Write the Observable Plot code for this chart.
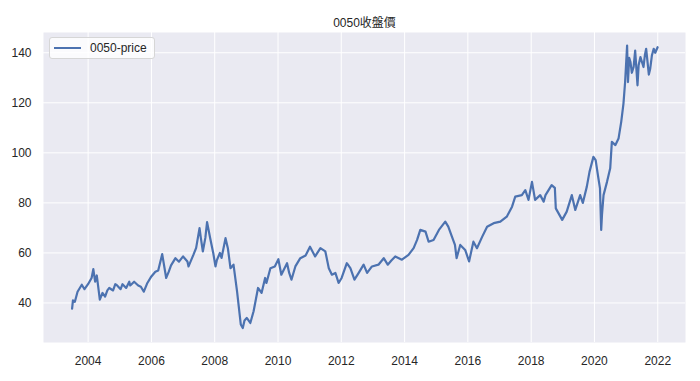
<!DOCTYPE html>
<html>
<head>
<meta charset="utf-8">
<script src="https://cdn.jsdelivr.net/npm/d3@7"></script>
<script src="https://cdn.jsdelivr.net/npm/@observablehq/plot@0.6"></script>
<style>
  html, body { margin: 0; padding: 0; background: white; }
  #wrap { position: relative; width: 700px; height: 381px; }
  #legend {
    position: absolute; left: 49px; top: 37px; width: 104px; height: 20px;
    background: rgba(255,255,255,0.8); border: 1px solid #d6d6d6; border-radius: 3px;
    font-family: "Liberation Sans", Arial, "Noto Sans CJK TC", sans-serif; font-size: 12px; color: #262626;
  }
  #legend .sw { position: absolute; left: 4px; top: 9px; width: 27px; height: 0; border-top: 2px solid #4C72B0; }
  #legend .lb { position: absolute; left: 40px; top: 2px; line-height: 16px; }
</style>
</head>
<body>
<div id="wrap"></div>
<script>
const title = "0050收盤價";
const seriesName = "0050-price";

const dates = [
  "2003-06-30","2003-07-10","2003-08-01","2003-09-01","2003-10-20","2003-11-20","2003-12-31",
  "2004-02-10","2004-03-01","2004-03-22","2004-04-10","2004-05-15","2004-06-15","2004-07-15","2004-08-10","2004-09-01","2004-10-15","2004-11-10","2004-12-01",
  "2005-01-10","2005-02-01","2005-03-15","2005-04-20","2005-05-01","2005-06-15","2005-08-01","2005-09-01","2005-10-05","2005-11-15","2005-12-31",
  "2006-02-15","2006-03-20","2006-05-05","2006-06-20","2006-07-20","2006-08-15","2006-10-05","2006-11-15",
  "2007-01-01","2007-02-20","2007-03-05","2007-04-30","2007-06-01","2007-07-10","2007-07-25","2007-08-17","2007-09-15","2007-10-05","2007-11-10","2007-12-15",
  "2008-01-10","2008-01-25","2008-03-01","2008-03-20","2008-05-05","2008-06-01","2008-07-01","2008-08-05","2008-09-15","2008-10-28","2008-11-20","2008-12-10",
  "2009-01-05","2009-02-15","2009-03-25","2009-05-15","2009-06-25","2009-08-05","2009-08-20","2009-10-05","2009-11-25",
  "2010-01-05","2010-02-08","2010-04-15","2010-05-10","2010-06-05","2010-07-20","2010-09-15","2010-11-15",
  "2011-01-05","2011-03-05","2011-05-05","2011-07-01","2011-08-10","2011-09-15","2011-10-25","2011-12-01",
  "2012-01-05","2012-03-05","2012-04-15","2012-06-01","2012-07-20","2012-09-15","2012-10-25","2012-12-20",
  "2013-03-05","2013-05-05","2013-06-20","2013-08-01","2013-09-15","2013-12-01",
  "2014-02-15","2014-04-15","2014-05-25","2014-07-01","2014-08-30","2014-10-05","2014-12-01",
  "2015-02-01","2015-04-15","2015-05-20","2015-07-01","2015-08-05","2015-08-24","2015-10-05","2015-12-01",
  "2016-01-15","2016-03-05","2016-04-15","2016-06-15","2016-08-10","2016-10-25",
  "2017-01-10","2017-03-25","2017-05-25","2017-07-01","2017-09-15","2017-10-25","2017-12-01",
  "2018-01-10","2018-02-15","2018-04-15","2018-05-25","2018-06-15","2018-08-25","2018-10-01","2018-10-12","2018-12-25",
  "2019-02-15","2019-04-15","2019-05-25","2019-07-20","2019-08-20","2019-10-05","2019-11-05","2019-12-20",
  "2020-01-15","2020-02-10","2020-03-05","2020-03-19","2020-03-28","2020-04-15","2020-05-25","2020-07-01","2020-07-20","2020-08-30","2020-10-05","2020-11-05","2020-12-01","2020-12-20",
  "2021-01-12","2021-01-22","2021-02-05","2021-02-20","2021-03-08","2021-03-28","2021-04-15","2021-05-12","2021-05-25","2021-06-15","2021-07-20","2021-08-05","2021-08-20","2021-09-20","2021-10-05","2021-10-25","2021-11-15","2021-12-03","2021-12-30"
];
const prices = [
  37.7,41.0,40.5,44.5,47.3,45.5,47.5,
  50.0,53.5,48.5,51.0,41.3,44.0,42.5,45.0,46.0,45.0,47.5,47.0,
  45.5,47.5,46.0,48.5,47.0,48.5,47.0,46.5,44.5,48.0,50.6,
  52.5,53.0,59.5,50.0,52.5,55.0,57.9,56.5,
  58.6,56.6,54.6,59.2,62.0,69.9,66.0,60.6,66.0,72.3,65.9,60.0,
  54.6,57.0,60.0,58.0,65.9,61.9,53.9,55.3,44.6,31.4,30.0,33.0,
  34.0,32.0,36.7,46.0,44.0,50.0,48.0,53.9,54.6,
  57.5,51.3,55.9,52.0,49.3,54.6,57.9,59.0,
  62.5,58.6,61.9,60.6,53.9,51.3,52.0,48.0,
  50.0,55.9,53.9,49.3,52.0,55.3,52.0,54.6,
  55.3,57.9,55.3,57.0,58.6,57.3,
  59.2,61.9,65.2,69.2,68.5,64.5,65.2,
  69.2,72.5,70.5,66.5,63.2,57.9,63.2,61.2,
  56.6,64.5,61.9,66.5,70.5,71.9,
  72.5,74.5,78.5,82.5,83.1,85.1,81.2,
  88.4,81.2,83.1,80.5,83.1,87.1,86.0,77.8,73.2,
  76.5,83.1,77.2,83.1,80.0,86.5,92.4,98.4,
  97.1,91.1,85.8,69.2,75.2,83.1,88.4,93.8,104.4,103.1,105.7,112.4,119.7,128.3,
  142.9,128.3,138.0,136.3,132.0,134.3,140.9,127.0,135.0,138.3,134.3,139.0,141.6,131.3,133.5,138.9,141.6,140.0,142.2
];
const xTickYears = [2004, 2006, 2008, 2010, 2012, 2014, 2016, 2018, 2020, 2022];
const yTicks = [40, 60, 80, 100, 120, 140];

const data = dates.map((d, i) => ({date: new Date(d), price: prices[i]}));
const xTicks = xTickYears.map(y => new Date(Date.UTC(y, 0, 1)));

const font = '"Liberation Sans", Arial, "Noto Sans CJK TC", sans-serif';

const chart = Plot.plot({
  width: 700,
  height: 381,
  marginLeft: 43,
  marginRight: 15,
  marginTop: 32,
  marginBottom: 39,
  style: {fontFamily: font, fontSize: "12px", color: "#262626", background: "white"},
  x: {type: "utc", domain: [new Date("2002-08-04"), new Date("2022-11-17")]},
  y: {domain: [24.2, 148.1]},
  marks: [
    Plot.frame({fill: "#EAEAF2", stroke: "none"}),
    Plot.gridX({ticks: xTicks, stroke: "white", strokeOpacity: 1, strokeWidth: 1}),
    Plot.gridY({ticks: yTicks, stroke: "white", strokeOpacity: 1, strokeWidth: 1}),
    Plot.axisX({ticks: xTicks, tickFormat: d3.utcFormat("%Y"), tickSize: 0, tickPadding: 14, label: null}),
    Plot.axisY({ticks: yTicks, tickSize: 0, tickPadding: 12, label: null}),
    Plot.line(data, {x: "date", y: "price", stroke: "#4C72B0", strokeWidth: 2.2, strokeLinejoin: "round"}),
    Plot.text([title], {frameAnchor: "top", dy: -14, fontSize: 12, fill: "#262626"})
  ]
});

const wrap = document.getElementById("wrap");
wrap.appendChild(chart);
const legend = document.createElement("div");
legend.id = "legend";
legend.innerHTML = '<div class="sw"></div><div class="lb"></div>';
legend.querySelector(".lb").textContent = seriesName;
wrap.appendChild(legend);
</script>
</body>
</html>
